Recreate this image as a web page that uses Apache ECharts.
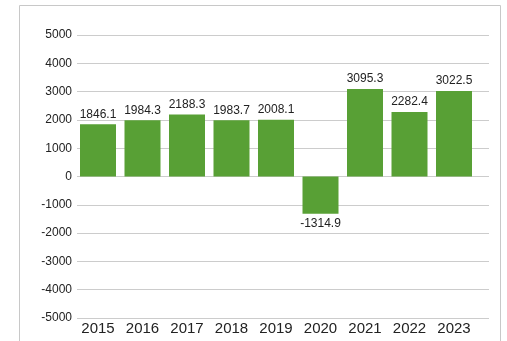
<!DOCTYPE html>
<html>
<head>
<meta charset="utf-8">
<script src="https://cdn.jsdelivr.net/npm/echarts@6/dist/echarts.min.js"></script>
<style>
  html, body { margin: 0; padding: 0; background: #fff; }
  #chart { width: 507px; height: 341px; }
</style>
</head>
<body>
<div id="chart"></div>
<script>
// Annual values by year
const years = ['2015', '2016', '2017', '2018', '2019', '2020', '2021', '2022', '2023'];
const values = [1846.1, 1984.3, 2188.3, 1983.7, 2008.1, -1314.9, 3095.3, 2282.4, 3022.5];
const yTicks = { min: -5000, max: 5000, interval: 1000 };

const barColor = '#58a035';
const textColor = '#222';
const fontFamily = 'Arial, "Liberation Sans", sans-serif';

const chart = echarts.init(document.getElementById('chart'), null, { renderer: 'canvas' });

// Negative bars carry their label underneath
const barData = values.map(v => ({
  value: v,
  label: { position: v < 0 ? 'bottom' : 'top' }
}));

chart.setOption({
  animation: false,
  backgroundColor: '#fff',
  graphic: [{
    type: 'rect',
    shape: { x: 19.5, y: 5.5, width: 481, height: 345 },
    style: { fill: '#fff', stroke: '#c8c8c8', lineWidth: 1 },
    z: -10
  }],
  grid: [
    // Frame for the value axis and its gridlines
    { left: 77, top: 35, width: 412, height: 283 },
    // Frame holding the bars
    { left: 75.75, top: 35, width: 400.5, height: 283 }
  ],
  xAxis: [
    { gridIndex: 0, type: 'value', show: false, min: 0, max: 1 },
    {
      gridIndex: 1, type: 'category', data: years,
      axisLine: { show: false }, axisTick: { show: false },
      axisLabel: { color: textColor, fontSize: 15, fontFamily, margin: 3 }
    }
  ],
  yAxis: [
    {
      gridIndex: 0, type: 'value',
      min: yTicks.min, max: yTicks.max, interval: yTicks.interval,
      axisLine: { show: false }, axisTick: { show: false },
      axisLabel: { color: textColor, fontSize: 12, fontFamily, margin: 5, formatter: v => String(v) },
      splitLine: { lineStyle: { color: '#cccccc', width: 1 } }
    },
    {
      gridIndex: 1, type: 'value', show: false,
      min: yTicks.min, max: yTicks.max, interval: yTicks.interval,
      splitLine: { show: false }
    }
  ],
  series: [{
    type: 'bar',
    xAxisIndex: 1, yAxisIndex: 1,
    data: barData,
    barWidth: 36,
    itemStyle: { color: barColor },
    label: {
      show: true, distance: 4,
      color: textColor, fontSize: 12, fontFamily,
      formatter: p => p.value.toFixed(1)
    }
  }]
});
</script>
</body>
</html>
